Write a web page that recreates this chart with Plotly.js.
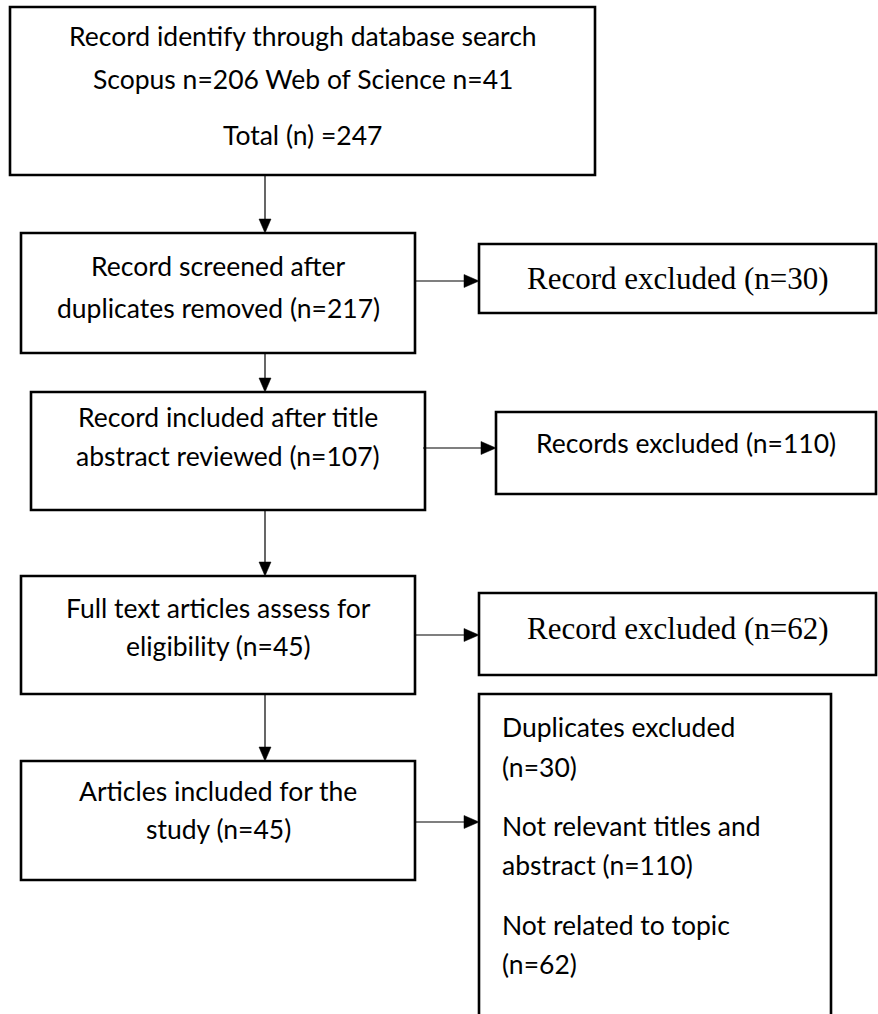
<!DOCTYPE html>
<html>
<head>
<meta charset="utf-8">
<script src="https://cdn.plot.ly/plotly-3.0.1.min.js"></script>
<style>
  html, body { margin: 0; padding: 0; background: #ffffff; }
  #chart { width: 878px; height: 1014px; }
</style>
</head>
<body>
<div id="chart"></div>
<script>
// ---------- data (texts of the flow diagram) ----------
const mainStageLines = [
  ["Record identify through database search", "Scopus n=206 Web of Science n=41", "Total (n) =247"],
  ["Record screened after", "duplicates removed (n=217)"],
  ["Record included after title", "abstract reviewed (n=107)"],
  ["Full text articles assess for", "eligibility (n=45)"],
  ["Articles included for the", "study (n=45)"]
];
const excludedLines = [
  ["Record excluded (n=30)"],
  ["Records excluded (n=110)"],
  ["Record excluded (n=62)"],
  ["Duplicates excluded", "(n=30)", "Not relevant titles and", "abstract (n=110)", "Not related to topic", "(n=62)"]
];

// ---------- layout geometry (pixels, y downwards) ----------
const W = 878, H = 1014;
const mainBoxes = [[10, 7, 595, 175], [21, 233, 415, 353], [31, 392, 425, 510], [21, 576, 415, 694], [21, 761, 415, 880]];
const mainTextY = [[36, 79, 135], [266, 308], [417, 456], [608, 646], [791, 829]];
const sideBoxes = [[479, 244, 876, 313], [496, 412, 876, 494], [479, 593, 876, 675], [479, 694, 831, null]];
const sideTextY = [[278], [443], [628], [727, 767, 826, 865, 925, 964]];
const sideSerif = [true, false, true, false];
const sideLeftX = 500;
const downArrowX = 265;
const rightArrowY = [281, 448, 635, 822];

const SANS = "Lato, 'Open Sans', sans-serif";
const SERIF = "'Liberation Serif', 'DejaVu Serif', serif";

const shapes = [];
const annotations = [];
const BORDER = 2.6;

function rect(b) {
  shapes.push({ type: 'rect', xref: 'x', yref: 'y', x0: b[0], y0: b[1], x1: b[2], y1: b[3],
    line: { color: '#000', width: BORDER }, fillcolor: 'rgba(0,0,0,0)' });
}
function openBox(b) {
  shapes.push({ type: 'path', xref: 'x', yref: 'y',
    path: `M ${b[0]},${H + 20} L ${b[0]},${b[1]} L ${b[2]},${b[1]} L ${b[2]},${H + 20}`,
    line: { color: '#000', width: BORDER } });
}
function downArrow(x, y0, y1) {
  const hl = 14, hw = 6;
  shapes.push({ type: 'line', xref: 'x', yref: 'y', x0: x, y0: y0, x1: x, y1: y1 - hl + 1, line: { color: '#000', width: 1.2 } });
  shapes.push({ type: 'path', xref: 'x', yref: 'y', path: `M ${x - hw},${y1 - hl} L ${x + hw},${y1 - hl} L ${x},${y1} Z`,
    fillcolor: '#000', line: { color: '#000', width: 0.5 } });
}
function rightArrow(y, x0, x1) {
  const hl = 15, hw = 6.5;
  shapes.push({ type: 'line', xref: 'x', yref: 'y', x0: x0, y0: y, x1: x1 - hl + 1, y1: y, line: { color: '#000', width: 1.2 } });
  shapes.push({ type: 'path', xref: 'x', yref: 'y', path: `M ${x1 - hl},${y - hw} L ${x1 - hl},${y + hw} L ${x1},${y} Z`,
    fillcolor: '#000', line: { color: '#000', width: 0.5 } });
}
function label(text, x, y, font, size, anchor) {
  annotations.push({ xref: 'x', yref: 'y', x: x, y: y, text: text, showarrow: false,
    xanchor: anchor || 'center', yanchor: 'middle', font: { family: font, size: size, color: '#000' } });
}

// main column
mainBoxes.forEach((b, i) => {
  rect(b);
  const cx = (b[0] + b[2]) / 2;
  mainStageLines[i].forEach((t, j) => label(t, cx, mainTextY[i][j], SANS, 26.5));
  if (i < mainBoxes.length - 1) downArrow(downArrowX, b[3], mainBoxes[i + 1][1]);
});

// side column
sideBoxes.forEach((b, i) => {
  if (b[3] === null) openBox(b); else rect(b);
  rightArrow(rightArrowY[i], mainBoxes[i + 1][2] + (i === 1 ? -2 : 1), b[0]);
  const lines = excludedLines[i];
  if (lines.length === 1) {
    label(lines[0], (b[0] + b[2]) / 2, sideTextY[i][0], sideSerif[i] ? SERIF : SANS, sideSerif[i] ? 31 : 26.5);
  } else {
    lines.forEach((t, j) => label(t, sideLeftX, sideTextY[i][j], SANS, 26.5, 'left'));
  }
});

const layout = {
  width: W, height: H,
  margin: { l: 0, r: 0, t: 0, b: 0, pad: 0 },
  paper_bgcolor: '#ffffff', plot_bgcolor: '#ffffff',
  xaxis: { range: [0, W], visible: false, fixedrange: true },
  yaxis: { range: [H, 0], visible: false, fixedrange: true },
  showlegend: false,
  shapes: shapes,
  annotations: annotations
};

Plotly.newPlot('chart', [{ x: [], y: [], type: 'scatter', mode: 'markers', hoverinfo: 'skip' }], layout,
  { displayModeBar: false, staticPlot: true });
</script>
</body>
</html>
